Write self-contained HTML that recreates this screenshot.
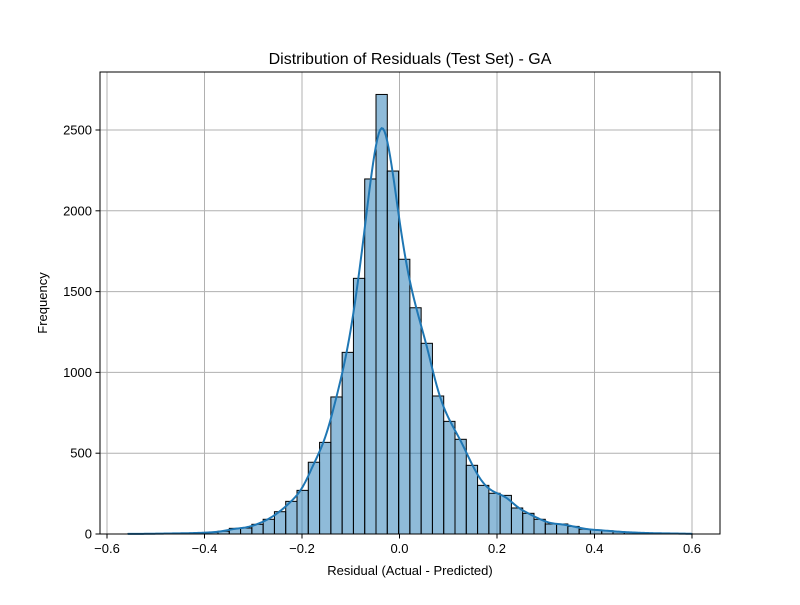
<!DOCTYPE html>
<html><head><meta charset="utf-8"><style>
body{margin:0;background:#fff}
svg text{font-family:"Liberation Sans","DejaVu Sans",sans-serif;fill:#000}
</style></head><body>
<svg id="chart" width="800" height="600" xmlns="http://www.w3.org/2000/svg">
<rect width="800" height="600" fill="#fff"/>
<text x="410" y="64" font-size="16" text-anchor="middle">Distribution of Residuals (Test Set) - GA</text>
<g id="grid"></g>
<g id="bars"></g>
<path id="kde" fill="none" stroke="#1f77b4" stroke-width="2"/>
<rect x="100" y="72" width="620" height="462" fill="none" stroke="#000" stroke-width="1"/>
<g id="axes"></g>
<text x="410" y="575" font-size="13" text-anchor="middle">Residual (Actual - Predicted)</text>
<text x="47" y="303" font-size="13" text-anchor="middle" transform="rotate(-90 47 303)">Frequency</text>
</svg>
<script>
const binStart = -0.5575;
const binWidth = 0.02315;
const counts = [1,1,2,3,4,5,7,10,17,35,37,60,91,138,202,270,444,567,848,1124,1582,2197,2720,2246,1700,1400,1180,854,697,586,425,301,252,239,161,128,91,62,62,47,30,25,20,14,10,7,5,4,3,2];
const xTicks = [-0.6,-0.4,-0.2,0,0.2,0.4,0.6];
const yTicks = [0,500,1000,1500,2000,2500];
const bandwidth = 0.0155;

const NS='http://www.w3.org/2000/svg';
function X(v){return 399.5+v*487.5;}
function Y(v){return 534-v*0.1616;}
function mk(tag,attrs,parent){const e=document.createElementNS(NS,tag);for(const k in attrs)e.setAttribute(k,attrs[k]);parent.appendChild(e);return e;}
const grid=document.getElementById('grid'),axes=document.getElementById('axes'),bars=document.getElementById('bars');
xTicks.forEach(t=>{
  const x=X(t);
  const g=mk('line',{x1:x,x2:x,y1:72,y2:534,stroke:'#b0b0b0','stroke-width':1},grid);
  
  
  const tk=mk('line',{x1:x,x2:x,y1:534,y2:538.5,stroke:'#000','stroke-width':1},axes);
  
  
  const lb=mk('text',{x:x,y:553,'font-size':13,'text-anchor':'middle'},axes);
  lb.textContent=(t<0?'\u2212':'')+Math.abs(t).toFixed(1);
  
  
});
yTicks.forEach(t=>{
  const y=Y(t);
  const g=mk('line',{x1:100,x2:720,y1:y,y2:y,stroke:'#b0b0b0','stroke-width':1},grid);
  
  
  const tk=mk('line',{x1:95.5,x2:100,y1:y,y2:y,stroke:'#000','stroke-width':1},axes);
  
  
  const lb=mk('text',{x:92,y:y+4.5,'font-size':13,'text-anchor':'end'},axes);
  lb.textContent=String(t);
  
  
});
counts.forEach((c,i)=>{
  const x0=X(binStart+i*binWidth),x1=X(binStart+(i+1)*binWidth);
  const r=mk('rect',{x:x0,y:Y(c),width:x1-x0,height:534-Y(c),fill:'rgba(31,119,180,0.5)',stroke:'#000','stroke-width':1},bars);
  
  
});
let d='';
const lo=binStart,hi=binStart+counts.length*binWidth;
for(let k=0;k<=400;k++){
  const x=lo+(hi-lo)*k/400;let s=0;
  counts.forEach((c,i)=>{const m=binStart+(i+0.5)*binWidth;const z=(x-m)/bandwidth;s+=c*Math.exp(-0.5*z*z)/(bandwidth*Math.sqrt(2*Math.PI))*binWidth;});
  d+=(k?'L':'M')+X(x).toFixed(2)+' '+Y(s).toFixed(2);
}
document.getElementById('kde').setAttribute('d',d);
</script>
</body></html>
